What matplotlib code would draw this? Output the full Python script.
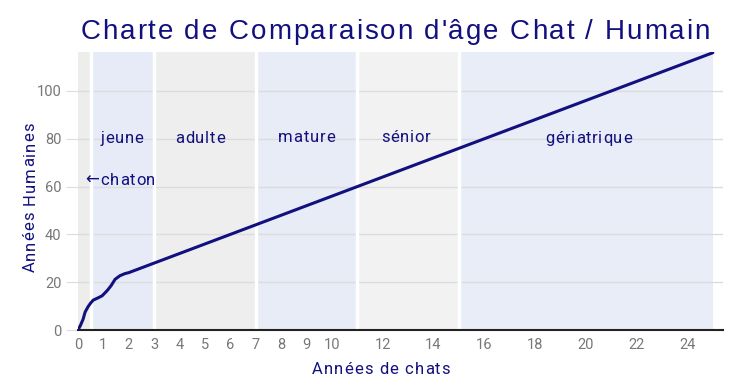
import matplotlib
matplotlib.use("Agg")
import matplotlib.pyplot as plt
from matplotlib.transforms import IdentityTransform

# Data
cat_years = [0, 0.1, 0.2, 0.28, 0.4, 0.5, 0.6, 0.8, 0.95, 1.15, 1.3, 1.46, 1.65, 1.85, 2,
             3, 4, 5, 6, 7, 8, 9, 10, 11, 12, 13, 14, 15, 16, 17, 18, 19, 20,
             21, 22, 23, 24, 25]
human_years = [0, 2, 4.5, 7.5, 9.8, 11.3, 12.5, 13.5, 14.3, 16.5, 18.5, 21.2, 22.7, 23.6, 24,
               28, 32, 36, 40, 44, 48, 52, 56, 60, 64, 68, 72, 76, 80, 84, 88, 92, 96,
               100, 104, 108, 112, 116]

stage_names = ["chaton", "jeune", "adulte", "mature", "sénior", "gériatrique"]
stage_start = [0, 0.5, 3, 7, 11, 15]
stage_end = [0.5, 3, 7, 11, 15, 25]
stage_colors = ["#ededeb", "#e6ebf7", "#eeeeee", "#e8ecf7", "#f2f2f2", "#e8edf7"]

label_x = [0.3, 1.73, 4.8, 9.0, 12.9, 20.1]
label_y = [62.5, 80, 80, 80.5, 80.5, 80]
label_text = ["←chaton", "jeune", "adulte", "mature", "sénior", "gériatrique"]

x_ticks = [0, 1, 2, 3, 4, 5, 6, 7, 8, 9, 10, 12, 14, 16, 18, 20, 22, 24]
y_ticks = [0, 20, 40, 60, 80, 100]

title = "Charte de Comparaison d'âge Chat / Humain"
x_label = "Années de chats"
y_label = "Années Humaines"

navy = "#12107e"
tick_gray = "#777777"

plt.rcParams['font.family'] = ['Roboto', 'DejaVu Sans']

W, H = 750, 388
fig = plt.figure(figsize=(W / 100, H / 100), dpi=100)
ax = fig.add_axes([78 / W, (H - 330) / H, (723 - 78) / W, (330 - 52) / H])
ax.set_xlim(0, 25.4)
ax.set_ylim(0, 116.3)

for s, e, c in zip(stage_start, stage_end, stage_colors):
    ax.axvspan(s, e, color=c, lw=0, zorder=0)
for s in stage_start[1:]:
    ax.axvline(s, color="white", lw=2.5, zorder=1)

ax.set_yticks(y_ticks)
ax.set_xticks(x_ticks)
ax.grid(axis="y", color="#dcdcdc", lw=1, zorder=1.5)
ax.set_axisbelow(True)

for sp in ["top", "right", "left"]:
    ax.spines[sp].set_visible(False)
ax.spines["bottom"].set_color("#222222")
ax.spines["bottom"].set_linewidth(1.5)
ax.spines["bottom"].set_zorder(3)

ax.tick_params(axis="y", length=9, color="#dcdcdc", labelcolor=tick_gray, labelsize=10.5, pad=3)
ax.tick_params(axis="x", length=0, labelcolor=tick_gray, labelsize=10.5, pad=6)

ax.plot(cat_years, human_years, color=navy, lw=2.2, zorder=4, solid_capstyle="round")

renderer = fig.canvas.get_renderer()


def char_widths(s, **kw):
    ws = []
    for ch in s:
        if ch == " ":
            t2 = fig.text(0, 0, "a a", transform=IdentityTransform(), **kw)
            t3 = fig.text(0, 0, "aa", transform=IdentityTransform(), **kw)
            w = t2.get_window_extent(renderer).width - t3.get_window_extent(renderer).width
            t2.remove(); t3.remove()
        else:
            t = fig.text(0, 0, ch, transform=IdentityTransform(), **kw)
            w = t.get_window_extent(renderer).width
            t.remove()
        ws.append(w)
    return ws


def spaced_text(xc, yc, s, spacing, align="center", vertical=False, **kw):
    ws = char_widths(s, **kw)
    total = sum(ws) + spacing * (len(s) - 1)
    start = -total / 2 if align == "center" else 0
    pos = start
    for ch, w in zip(s, ws):
        if ch != " ":
            if vertical:
                fig.text(xc, yc + pos, ch, transform=IdentityTransform(), rotation=90,
                         ha="left", va="center", rotation_mode="anchor", **kw)
            else:
                fig.text(xc + pos, yc, ch, transform=IdentityTransform(),
                         ha="left", va="center", **kw)
        pos += w + spacing


# Band labels (data -> pixel)
for t, x, y in zip(label_text, label_x, label_y):
    px, py = ax.transData.transform((x, y))
    align = "left" if t.startswith("←") else "center"
    spaced_text(px, py, t, 0.8, align=align, color=navy, fontsize=12)

# Title (pixel coords from bottom)
spaced_text(395, H - 32, title, 1.9, color=navy, fontsize=20,
            family=["Liberation Sans", "DejaVu Sans"])

# Axis labels
spaced_text(381, H - 369, x_label, 1.1, color=navy, fontsize=12)
spaced_text(30, H - 197, y_label, 1.1, vertical=True, color=navy, fontsize=12)

fig.savefig("out.png", dpi=100)
